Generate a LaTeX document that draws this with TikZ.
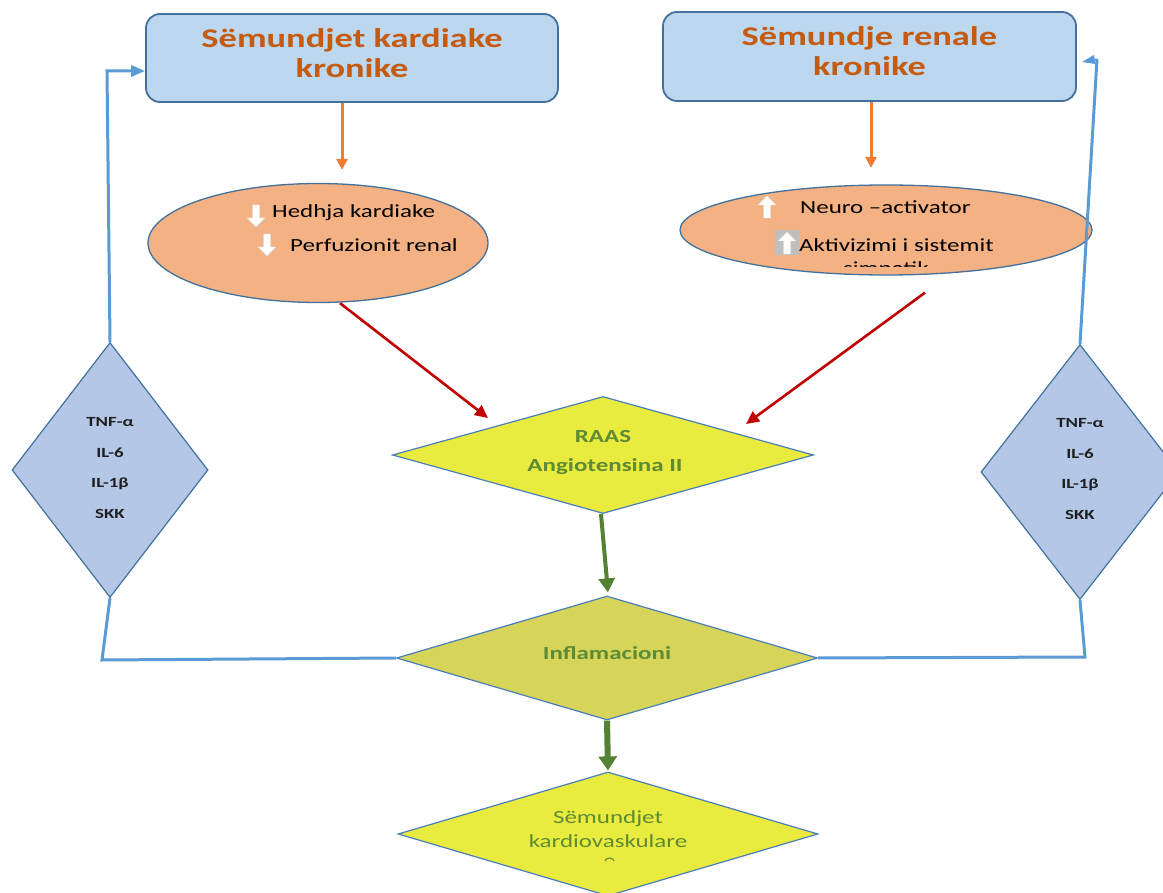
\documentclass[tikz,border=0pt]{standalone}
\usepackage{fontspec}
\setmainfont{Carlito}[FakeStretch=1.35]
\usetikzlibrary{shapes.geometric,arrows.meta,calc}

\definecolor{boxfill}{HTML}{BDD7EE}
\definecolor{boxline}{HTML}{41719C}
\definecolor{titlecol}{HTML}{C55A11}
\definecolor{orangearr}{HTML}{ED7D31}
\definecolor{ellfill}{HTML}{F4B183}
\definecolor{redarr}{HTML}{C00000}
\definecolor{yelfill}{HTML}{E9EB3E}
\definecolor{olivefill}{HTML}{D6D55A}
\definecolor{greentxt}{HTML}{5E8B34}
\definecolor{greenarr}{HTML}{548235}
\definecolor{bluefill}{HTML}{B4C7E7}
\definecolor{bluecon}{HTML}{5B9BD5}
\definecolor{dialine}{HTML}{4A7EBB}
\definecolor{graybox}{HTML}{BFBFBF}
\definecolor{darktxt}{HTML}{1F1F1F}

\tikzset{
  titlebox/.style={draw=boxline, line width=1.8pt, fill=boxfill, rounded corners=14pt,
    minimum width=412pt, minimum height=88pt, inner sep=0pt},
  titletext/.style={text=titlecol, font=\fontsize{27}{30}\selectfont\bfseries, align=center, inner sep=0pt},
  ellbox/.style={ellipse, draw=boxline, line width=1.3pt, fill=ellfill, inner sep=0pt},
  elltext/.style={anchor=west, inner sep=0pt, text=black, font=\fontsize{18.5}{22}\selectfont},
  dia/.style={diamond, draw=dialine, line width=1.2pt, inner sep=0pt},
  greenlabel/.style={inner sep=0pt, text=greentxt, font=\fontsize{18.5}{22}\selectfont\bfseries},
  greenplain/.style={inner sep=0pt, text=greentxt, font=\fontsize{18.5}{22}\selectfont},
  bluetext/.style={inner sep=0pt, text=darktxt, align=center, font=\fontsize{14}{30.5}\selectfont\bfseries},
  oarrow/.style={draw=orangearr, line width=3pt, -{Triangle[length=11pt,width=11pt]}},
  rarrow/.style={draw=redarr, line width=2.6pt, -{Triangle[length=13pt,width=12pt]}},
  garrow/.style={draw=greenarr, line width=4pt, -{Triangle[length=14pt,width=16pt]}},
  gthick/.style={draw=greenarr, line width=6pt, -{Triangle[length=14pt,width=18pt]}},
  bline/.style={draw=bluecon, line width=3pt},
  barrow/.style={draw=bluecon, line width=3pt, -{Triangle[length=14pt,width=11pt]}},
  pics/blockdown/.style={code={
    \fill[white, draw=black!12, line width=0.4pt] (-3.5,-11) -- (3.5,-11) -- (3.5,2) -- (9,2) -- (0,11) -- (-9,2) -- (-3.5,2) -- cycle;}},
  pics/blockup/.style={code={
    \fill[white, draw=black!12, line width=0.4pt] (-3.5,11) -- (3.5,11) -- (3.5,-2) -- (9,-2) -- (0,-11) -- (-9,-2) -- (-3.5,-2) -- cycle;}},
}

\begin{document}
\begin{tikzpicture}[x=1pt, y=-1pt]
  \useasboundingbox (0,0) rectangle (1163,893);
  \clip (0,0) rectangle (1163,893);

  % --- top boxes ---
  \node[titlebox] (box1) at (352,58) {};
  \node[titletext] (box1t) at (352,53) {Sëmundjet kardiake\\kronike};
  \node[titlebox, minimum width=413pt, minimum height=89pt] (box2) at (869.5,56.5) {};
  \node[titletext] (box2t) at (869.5,51.5) {Sëmundje renale\\kronike};

  % --- ellipses ---
  \node[ellbox, minimum width=340pt, minimum height=119pt] (ell1) at (318,243) {};
  \node[ellbox, minimum width=412pt, minimum height=90pt] (ell2) at (886,230) {};

  \pic at (256,216) {blockdown};
  \node[elltext] (hedhja) at (272,213) {Hedhja kardiake};
  \pic at (267,245) {blockdown};
  \node[elltext] (perf) at (290,245) {Perfuzionit renal};

  \pic at (767,207) {blockup};
  \node[elltext] (neuro) at (800,207) {Neuro –activator};
  \fill[graybox] (775,230) rectangle (799,255);
  \pic at (787,243) {blockup};
  \node[elltext] (aktiv) at (799,245) {Aktivizimi i sistemit};
  \begin{scope}
    \clip (700,255) rectangle (1000,267);
    \node[elltext] (simp) at (843,270) {simpatik};
  \end{scope}

  % --- orange arrows ---
  \draw[oarrow] ([xshift=-10pt]box1.south) -- ++(0,67);
  \draw[oarrow] ([xshift=1.5pt]box2.south) -- ++(0,66);

  % --- central diamonds ---
  \node[dia, fill=yelfill, minimum width=421pt, minimum height=117pt] (raas) at (603,455) {};
  \node[greenlabel] (raast) at (603,436) {RAAS};
  \node[greenlabel] (angt) at (605,467) {Angiotensina II};

  \node[dia, fill=olivefill, minimum width=421pt, minimum height=124pt] (infl) at (607,658) {};
  \node[greenlabel] (inflt) at (607,653) {Inflamacioni};

  \node[dia, fill=yelfill, minimum width=420pt, minimum height=124pt] (kardio) at (608,834) {};
  \node[greenplain] (kard1) at (608,819) {Sëmundjet};
  \node[greenplain] (kard2) at (608,841) {kardiovaskulare};
  \draw[greentxt, line width=1.1pt] (605,861) arc[start angle=180, end angle=0, x radius=4.5pt, y radius=3pt];

  % --- red arrows ---
  \draw[rarrow] ([xshift=22pt]ell1.south) -- (488,418);
  \draw[rarrow] ([xshift=39pt,yshift=-17pt]ell2.south) -- (746,424);

  % --- green arrows ---
  \draw[garrow] ([xshift=-2pt]raas.south) -- ([xshift=1pt,yshift=3pt]infl.north);
  \draw[gthick] (infl.south) -- ([yshift=1pt]kardio.north);

  % --- side diamonds ---
  \node[dia, fill=bluefill, draw=boxline, minimum width=196pt, minimum height=255pt] (bl) at (110,470) {};
  \node[bluetext] (blt) at (110,468) {TNF-α\\IL-6\\IL-1β\\SKK};
  \node[dia, fill=bluefill, draw=boxline, minimum width=198pt, minimum height=255pt] (br) at (1080,472) {};
  \node[bluetext] (brt) at (1080,469) {TNF-α\\IL-6\\IL-1β\\SKK};

  % --- blue feedback lines ---
  \coordinate (lcorner) at (102,660);
  \coordinate (ltop) at (107,71);
  \coordinate (rcorner) at (1085,657);
  \coordinate (rtop) at (1097,59);
  \coordinate (rhead) at (1082,62);
  \draw[bline] (infl.west) -- (lcorner) -- (bl.south);
  \draw[barrow] (bl.north) -- (ltop) -- ([yshift=-13pt]box1.west);
  \draw[bline] (infl.east) -- (rcorner) -- (br.south);
  \draw[bline] (br.north) -- (rtop);
  \draw[draw=bluecon, line width=1pt, -{Triangle[length=13pt,width=9pt]}] (rtop) -- (rhead);
\end{tikzpicture}
\end{document}
